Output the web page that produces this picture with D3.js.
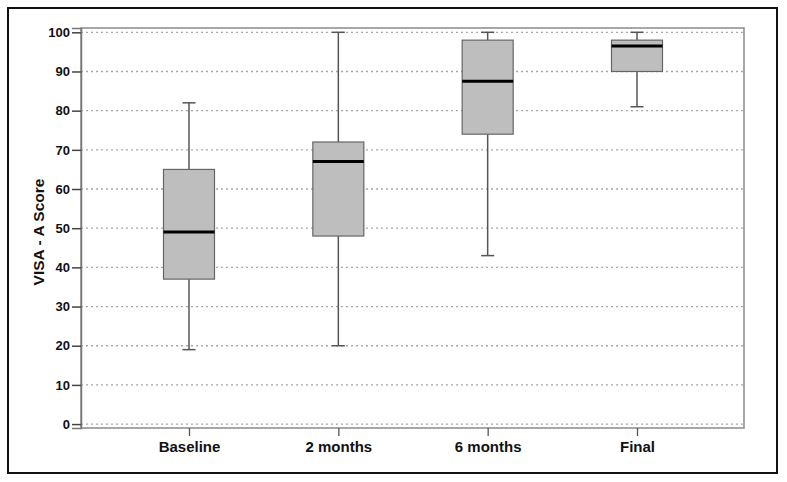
<!DOCTYPE html>
<html>
<head>
<meta charset="utf-8">
<script src="https://cdn.jsdelivr.net/npm/d3@7"></script>
<style>
  html, body { margin: 0; padding: 0; background: #fff; }
  svg { display: block; font-family: "Liberation Sans", Arial, sans-serif; }
</style>
</head>
<body>
<svg id="chart" width="787" height="482"></svg>
<script>
// ---- data ----
const categories = ["Baseline", "2 months", "6 months", "Final"];
const whiskerLow = [19, 20, 43, 81];
const q1 = [37, 48, 74, 90];
const median = [49, 67, 87.5, 96.5];
const q3 = [65, 72, 98, 98];
const whiskerHigh = [82, 100, 100, 100];
const yTicks = [0, 10, 20, 30, 40, 50, 60, 70, 80, 90, 100];
const yLabel = "VISA - A Score";

// ---- layout ----
const svg = d3.select("#chart");
const plot = { left: 81, top: 28, right: 744, bottom: 428 };

svg.append("rect")
  .attr("x", 8).attr("y", 8).attr("width", 769).attr("height", 465)
  .attr("fill", "none").attr("stroke", "#111").attr("stroke-width", 2);

const y = d3.scaleLinear().domain([-1, 101.1]).range([plot.bottom, plot.top]);
const x = d3.scalePoint().domain(categories)
  .range([plot.left + 108, plot.right - 107]);

// gridlines
svg.append("g").selectAll("line").data(yTicks).join("line")
  .attr("x1", plot.left).attr("x2", plot.right)
  .attr("y1", d => y(d)).attr("y2", d => y(d))
  .attr("stroke", "#a8a8a8").attr("stroke-width", 1.3)
  .attr("stroke-dasharray", "2,3");

// plot border
svg.append("rect")
  .attr("x", plot.left).attr("y", plot.top)
  .attr("width", plot.right - plot.left).attr("height", plot.bottom - plot.top)
  .attr("fill", "none").attr("stroke", "#8a8a8a").attr("stroke-width", 1.5);

// y axis
const yAxis = svg.append("g")
  .attr("transform", `translate(${plot.left},0)`)
  .call(d3.axisLeft(y).tickValues(yTicks).tickSize(9).tickPadding(2));
yAxis.select(".domain").attr("stroke", "#777").attr("stroke-width", 1.5);
yAxis.selectAll(".tick line").attr("stroke", "#444").attr("stroke-width", 1.5);
yAxis.selectAll(".tick text")
  .attr("font-size", 13).attr("font-weight", "bold").attr("fill", "#111")
  .attr("font-family", "Liberation Sans, Arial, sans-serif");

// x axis
const xAxis = svg.append("g")
  .attr("transform", `translate(0,${plot.bottom})`)
  .call(d3.axisBottom(x).tickSize(8).tickPadding(5));
xAxis.select(".domain").remove();
xAxis.selectAll(".tick line").attr("stroke", "#555").attr("stroke-width", 1.3);
xAxis.selectAll(".tick text")
  .attr("font-size", 15).attr("font-weight", "bold").attr("fill", "#111")
  .attr("font-family", "Liberation Sans, Arial, sans-serif");

// y label
svg.append("text")
  .attr("transform", `translate(44,${(plot.top + plot.bottom) / 2 + 4}) rotate(-90)`)
  .attr("text-anchor", "middle")
  .attr("font-size", 15.5).attr("font-weight", "bold").attr("fill", "#111")
  .text(yLabel);

// boxes
const boxW = 51, capW = 13;
const rows = categories.map((c, i) => ({
  c, lo: whiskerLow[i], q1: q1[i], med: median[i], q3: q3[i], hi: whiskerHigh[i]
}));
const g = svg.append("g").selectAll("g").data(rows).join("g")
  .attr("transform", d => `translate(${x(d.c)},0)`);

// whiskers
g.append("line").attr("x1", 0).attr("x2", 0)
  .attr("y1", d => y(d.hi)).attr("y2", d => y(d.q3))
  .attr("stroke", "#555").attr("stroke-width", 1.5);
g.append("line").attr("x1", 0).attr("x2", 0)
  .attr("y1", d => y(d.q1)).attr("y2", d => y(d.lo))
  .attr("stroke", "#555").attr("stroke-width", 1.5);
g.append("line").attr("x1", -capW / 2).attr("x2", capW / 2)
  .attr("y1", d => y(d.hi)).attr("y2", d => y(d.hi))
  .attr("stroke", "#555").attr("stroke-width", 1.5);
g.append("line").attr("x1", -capW / 2).attr("x2", capW / 2)
  .attr("y1", d => y(d.lo)).attr("y2", d => y(d.lo))
  .attr("stroke", "#555").attr("stroke-width", 1.5);

// box
g.append("rect")
  .attr("x", -boxW / 2).attr("width", boxW)
  .attr("y", d => y(d.q3)).attr("height", d => y(d.q1) - y(d.q3))
  .attr("fill", "#bebebe").attr("stroke", "#666").attr("stroke-width", 1.2);

// median
g.append("line").attr("x1", -boxW / 2).attr("x2", boxW / 2)
  .attr("y1", d => y(d.med)).attr("y2", d => y(d.med))
  .attr("stroke", "#000").attr("stroke-width", 3);
</script>
</body>
</html>
